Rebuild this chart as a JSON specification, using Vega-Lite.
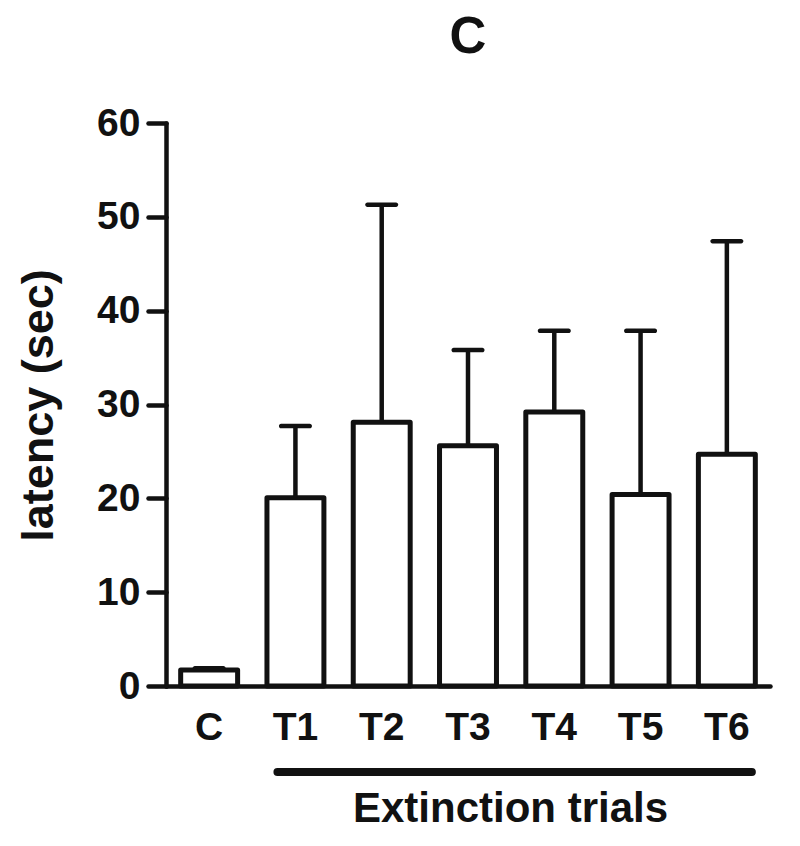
{
  "$schema": "https://vega.github.io/schema/vega-lite/v6.json",
  "autosize": "none",
  "width": 604,
  "height": 563,
  "padding": {"left": 166, "top": 123, "right": 30, "bottom": 160},
  "background": "white",
  "config": {
    "view": {"stroke": null},
    "font": "Liberation Sans"
  },
  "title": {
    "text": "C",
    "fontSize": 51,
    "fontWeight": "bold",
    "color": "#111111",
    "font": "Liberation Sans",
    "anchor": "middle",
    "frame": "group",
    "baseline": "bottom",
    "offset": -11
  },
  "data": {
    "values": [
      {"group": "C", "latency": 1.7, "upper": 1.9},
      {"group": "T1", "latency": 20.06, "upper": 27.7},
      {"group": "T2", "latency": 28.1, "upper": 51.3},
      {"group": "T3", "latency": 25.6, "upper": 35.8},
      {"group": "T4", "latency": 29.2, "upper": 37.85},
      {"group": "T5", "latency": 20.4, "upper": 37.85},
      {"group": "T6", "latency": 24.7, "upper": 47.4}
    ]
  },
  "encoding": {
    "x": {
      "field": "group",
      "type": "nominal",
      "sort": null,
      "scale": {"paddingInner": 0.34, "paddingOuter": 0.17},
      "axis": {
        "title": "Extinction trials",
        "titleFontSize": 42,
        "titleFontWeight": "bold",
        "titleColor": "#111111",
        "titleX": 344,
        "titleY": 135,
        "titleAlign": "center",
        "titleBaseline": "alphabetic",
        "labelAngle": 0,
        "labelFontSize": 39,
        "labelFontWeight": "bold",
        "labelColor": "#111111",
        "labelPadding": 22,
        "ticks": false,
        "domainColor": "#111111",
        "domainWidth": 4.5,
        "domainCap": "round",
        "grid": false
      }
    }
  },
  "layer": [
    {
      "mark": {"type": "bar", "fill": "white", "stroke": "#111111", "strokeWidth": 5, "strokeJoin": "round"},
      "encoding": {
        "y": {
          "field": "latency",
          "type": "quantitative",
          "scale": {"domain": [0, 60], "nice": false},
          "axis": {
            "title": "latency (sec)",
            "titleFontSize": 45,
            "titleFontWeight": "bold",
            "titleColor": "#111111",
            "titleX": -114,
            "titleY": 282,
            "titleAngle": 270,
            "titleAlign": "center",
            "titleBaseline": "alphabetic",
            "values": [0, 10, 20, 30, 40, 50, 60],
            "labelFontSize": 39,
            "labelFontWeight": "bold",
            "labelColor": "#111111",
            "labelPadding": 8,
            "tickSize": 18,
            "tickWidth": 4.5,
            "tickColor": "#111111",
            "tickCap": "round",
            "domainColor": "#111111",
            "domainWidth": 4.5,
            "domainCap": "round",
            "grid": false
          }
        }
      }
    },
    {
      "mark": {"type": "rule", "stroke": "#111111", "strokeWidth": 4.5},
      "encoding": {
        "y": {"field": "latency", "type": "quantitative"},
        "y2": {"field": "upper"}
      }
    },
    {
      "mark": {"type": "tick", "color": "#111111", "size": 33, "thickness": 4.5, "cornerRadius": 2.2, "opacity": 1},
      "encoding": {
        "y": {"field": "upper", "type": "quantitative"}
      }
    },
    {
      "data": {"values": [{"start": "T1", "end": "T6", "level": -9.16}]},
      "mark": {"type": "rule", "stroke": "#111111", "strokeWidth": 8, "strokeCap": "round", "xOffset": -18, "x2Offset": 25},
      "encoding": {
        "x": {"field": "start", "type": "nominal", "sort": null},
        "x2": {"field": "end"},
        "y": {"field": "level", "type": "quantitative"}
      }
    }
  ]
}
